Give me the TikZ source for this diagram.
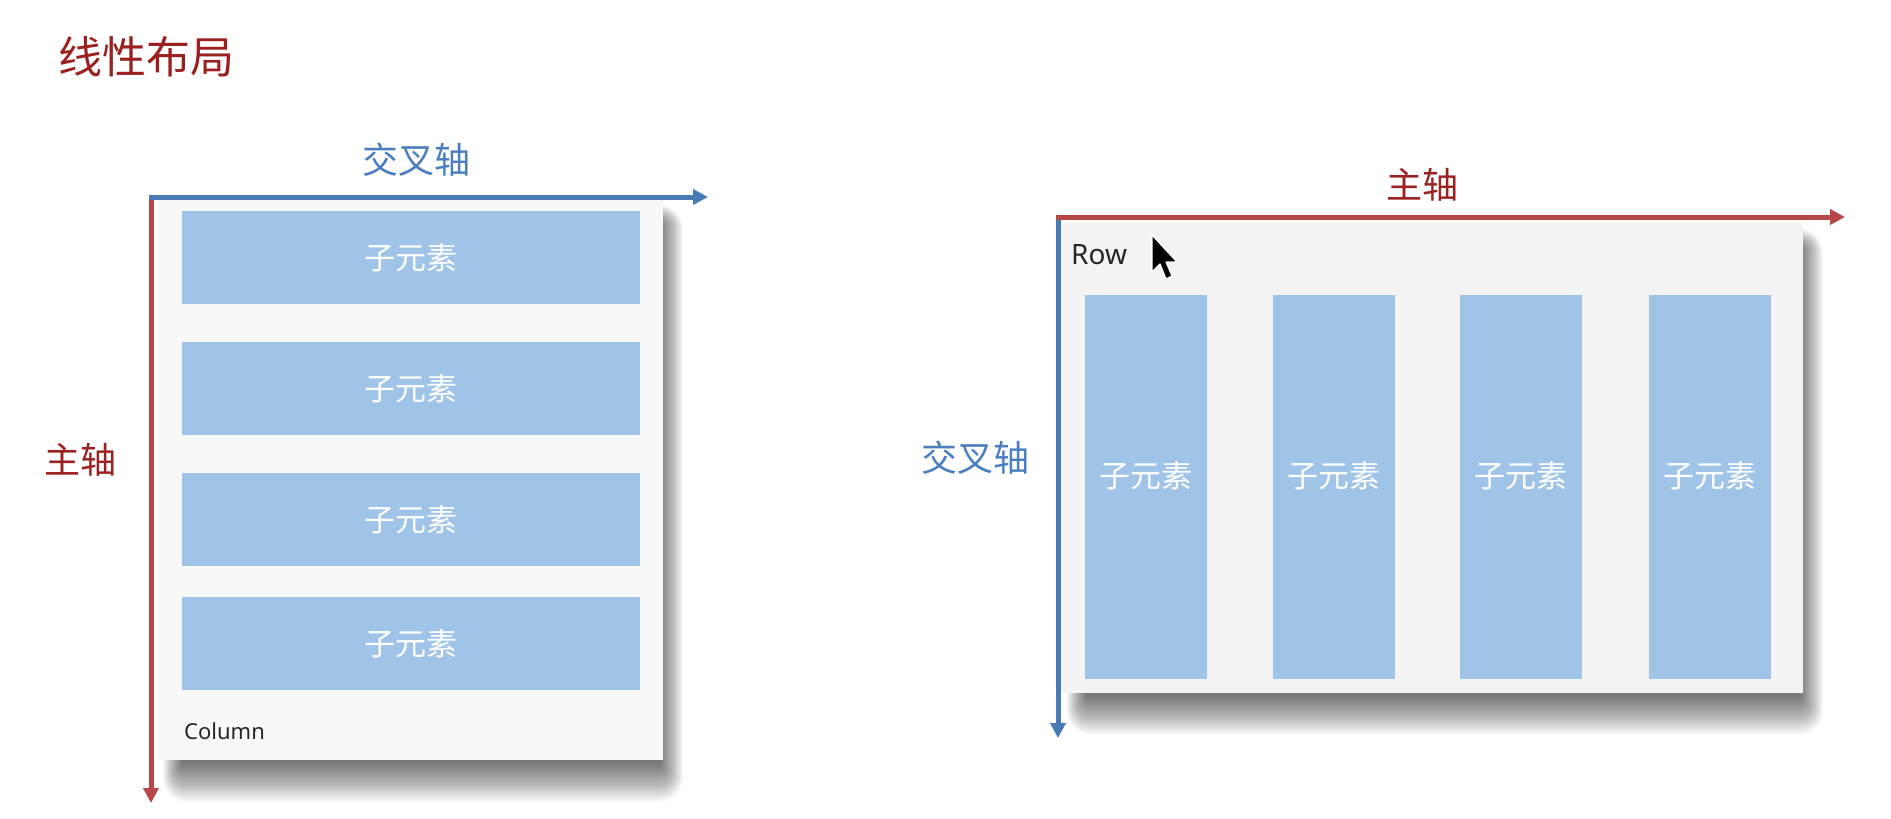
\documentclass[tikz,border=0pt]{standalone}
\usepackage{fontspec}
\setmainfont{Noto Sans}
\newfontfamily\cjk{Noto Sans CJK SC}
\usetikzlibrary{arrows.meta,backgrounds}
\definecolor{titlered}{RGB}{155,32,32}
\definecolor{axisred}{RGB}{184,72,72}
\definecolor{axisblue}{RGB}{72,122,182}
\definecolor{textblue}{RGB}{74,126,190}
\definecolor{boxblue}{RGB}{159,196,231}
\definecolor{panelL}{RGB}{248,248,248}
\definecolor{panelR}{RGB}{243,243,243}
\begin{document}
\begin{tikzpicture}[x=1pt,y=-1pt,
  panel/.style={rectangle,inner sep=0pt,draw=none},
  child/.style={rectangle,inner sep=0pt,fill=boxblue},
  childtext/.style={text=white,inner sep=0pt,font=\cjk\fontsize{31}{31}\selectfont},
  axis/.style={line width=5pt,-{Triangle[length=15pt,width=15pt]}},
  cjklabel/.style={font=\cjk\fontsize{36}{36}\selectfont,inner sep=0pt},
  shadowlayer/.style={black,opacity=0.014}
]
\useasboundingbox (0,0) rectangle (1891,819);

% title
\node[font=\cjk\fontsize{44}{44}\selectfont,text=titlered,inner sep=0pt] (title) at (146,57) {线性布局};

% ---------- left: Column ----------
\node[panel,fill=panelL,minimum width=506pt,minimum height=561pt] (colpanel) at (410,479.5) {};
\foreach \y/\n in {257.5/1,388.5/2,519.5/3,643.5/4}{
  \node[child,minimum width=458pt,minimum height=93pt] (c\n) at (411,\y) {};
  \node[childtext] (c\n t) at (c\n) {子元素};
}
\node[font=\fontsize{22}{22}\selectfont,text=black!85,anchor=west,inner sep=0pt] (collabel) at (184,731) {Column};

\coordinate (lo) at (151,197);
\coordinate (lx) at (708,197);
\coordinate (ly) at (151,803);
\draw[axis,axisred] (lo) -- (ly);
\draw[axis,axisblue] ([xshift=-2.5pt]lo) -- (lx);
\node[cjklabel,text=textblue] (lcross) at (416,160) {交叉轴};
\node[cjklabel,text=titlered] (lmain) at (80,460) {主轴};

% ---------- right: Row ----------
\node[panel,fill=panelR,minimum width=742pt,minimum height=470pt] (rowpanel) at (1432,458) {};
\foreach \x/\n in {1146/1,1333.5/2,1521/3,1709.5/4}{
  \node[child,minimum width=122pt,minimum height=384pt] (r\n) at (\x,487) {};
  \node[childtext] (r\n t) at (\x,476) {子元素};
}
\node[font=\fontsize{28}{28}\selectfont,text=black!85,anchor=west,inner sep=0pt] (rowlabel) at (1071,255) {Row};

\coordinate (ro) at (1058,217);
\coordinate (rx) at (1845,217);
\coordinate (ry) at (1058,738);
\draw[axis,axisblue] (ro) -- (ry);
\draw[axis,axisred] ([xshift=-2.5pt]ro) -- (rx);
\node[cjklabel,text=titlered] (rmain) at (1422,185) {主轴};
\node[cjklabel,text=textblue] (rcross) at (975,458) {交叉轴};

% mouse cursor
\draw[fill=black,draw=white,line width=1.2pt,line join=round]
  (1152,235) -- (1152,272) -- (1160,264) -- (1166,279) -- (1172,276) -- (1166,262) -- (1177,262) -- cycle;

% soft drop shadows
\begin{pgfonlayer}{background}
  \fill[white] (0,0) rectangle (1891,819);
  \foreach \p in {colpanel,rowpanel}{
    \foreach \i in {1,...,40}{
      \pgfmathsetmacro{\r}{\i}
      \pgfmathsetmacro{\a}{26-0.5*\i}
      \pgfmathsetmacro{\b}{-4+0.6*\i}
      \pgfmathsetmacro{\c}{2+\i}
      \fill[shadowlayer,rounded corners=0.6*\r pt]
        ([shift={(\a,\a)}]\p.north west) rectangle ([shift={(\b,\c)}]\p.south east);
    }
  }
\end{pgfonlayer}
\end{tikzpicture}
\end{document}
